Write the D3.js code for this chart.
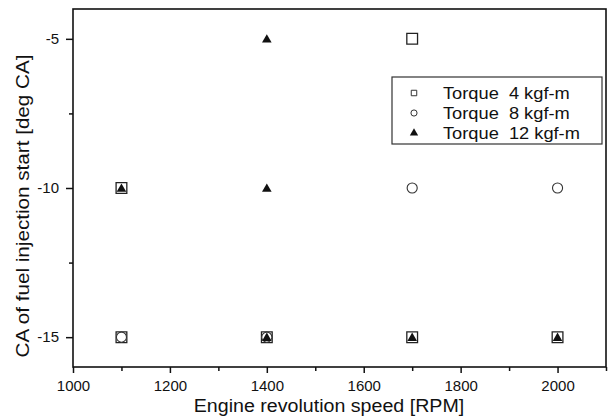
<!DOCTYPE html>
<html>
<head>
<meta charset="utf-8">
<script src="https://cdn.jsdelivr.net/npm/d3@7"></script>
<style>
  body { margin: 0; background: #fff; }
  text { font-family: "Liberation Sans", Arial, sans-serif; fill: #111; }
</style>
</head>
<body>
<div id="chart"></div>
<script>
// data
var torque4 = [[1100, -10], [1100, -15], [1400, -15], [1700, -5], [1700, -15], [2000, -15]];
var torque8 = [[1100, -15], [1400, -15], [1700, -10], [2000, -10]];
var torque12 = [[1100, -10], [1400, -5], [1400, -10], [1400, -15], [1700, -15], [2000, -15]];
var seriesNames = ["Torque  4 kgf-m", "Torque  8 kgf-m", "Torque  12 kgf-m"];
var xTicks = [1000, 1200, 1400, 1600, 1800, 2000];
var xMinor = [1100, 1300, 1500, 1700, 1900, 2100];
var yTicks = [-5, -10, -15];
var yMinor = [-7.5, -12.5];

var W = 611, H = 416;
var margin = {top: 9, right: 5, bottom: 49, left: 73};
var width = W - margin.left - margin.right,
    height = H - margin.top - margin.bottom;

var svg = d3.select("#chart").append("svg")
    .attr("width", W)
    .attr("height", H);

var g = svg.append("g")
    .attr("transform", "translate(" + margin.left + "," + margin.top + ")");

var x = d3.scaleLinear().domain([1000, 2100]).range([0, width]);
var y = d3.scaleLinear().domain([-16, -4]).range([height, 0]);

// the original glyphs are a bit wider than Liberation Sans
function stretch(sel, k) {
    sel.each(function () {
        var len = this.getComputedTextLength();
        d3.select(this).attr("textLength", len * k).attr("lengthAdjust", "spacingAndGlyphs");
    });
}

// minor ticks first, then the labelled ones
g.append("g")
    .attr("transform", "translate(0," + height + ")")
    .call(d3.axisBottom(x).tickValues(xMinor).tickSize(4).tickFormat(""));
g.append("g")
    .attr("transform", "translate(0," + height + ")")
    .call(d3.axisBottom(x).tickValues(xTicks).tickSize(6).tickPadding(7).tickFormat(String))
    .attr("font-size", 15);
g.append("g")
    .call(d3.axisLeft(y).tickValues(yMinor).tickSize(4).tickFormat(""));
g.append("g")
    .call(d3.axisLeft(y).tickValues(yTicks).tickSize(7).tickPadding(7).tickFormat(String))
    .attr("font-size", 15);

g.selectAll(".domain").remove();
g.selectAll(".tick line").attr("stroke", "#111").attr("stroke-width", 1.5);
g.selectAll(".tick text").attr("font-family", "Liberation Sans, Arial, sans-serif").attr("fill", "#222");

// frame
g.append("rect")
    .attr("width", width)
    .attr("height", height)
    .attr("fill", "none")
    .attr("stroke", "#111")
    .attr("stroke-width", 1.6);

var square = d3.symbol().type(d3.symbolSquare),
    circle = d3.symbol().type(d3.symbolCircle),
    triangle = d3.symbol().type(d3.symbolTriangle);

g.selectAll(".sq").data(torque4).enter().append("path")
    .attr("class", "sq")
    .attr("d", square.size(115))
    .attr("transform", function (d) { return "translate(" + x(d[0]) + "," + y(d[1]) + ")"; })
    .attr("fill", "#fff").attr("stroke", "#222").attr("stroke-width", 1.3);

g.selectAll(".ci").data(torque8).enter().append("path")
    .attr("class", "ci")
    .attr("d", circle.size(80))
    .attr("transform", function (d) { return "translate(" + x(d[0]) + "," + y(d[1]) + ")"; })
    .attr("fill", "#fff").attr("stroke", "#333").attr("stroke-width", 1.1);

g.selectAll(".tr").data(torque12).enter().append("path")
    .attr("class", "tr")
    .attr("d", triangle.size(40))
    .attr("transform", function (d) { return "translate(" + x(d[0]) + "," + (y(d[1]) + 1) + ")"; })
    .attr("fill", "#111");

// legend
var legend = svg.append("g").attr("transform", "translate(392,77)");
legend.append("rect")
    .attr("width", 210).attr("height", 67)
    .attr("fill", "#fff").attr("stroke", "#333").attr("stroke-width", 1.2);

var legendSyms = [square.size(30), circle.size(30), triangle.size(30)];
seriesNames.forEach(function (name, i) {
    var row = legend.append("g").attr("transform", "translate(0," + (16 + i * 20) + ")");
    row.append("path")
        .attr("d", legendSyms[i])
        .attr("transform", "translate(22,0)")
        .attr("fill", i == 2 ? "#111" : "#fff")
        .attr("stroke", i == 2 ? "none" : "#333")
        .attr("stroke-width", 1);
    row.append("text")
        .attr("x", 51)
        .attr("y", 6)
        .attr("font-size", 16)
        .style("white-space", "pre")
        .text(name)
        .call(stretch, 1.14);
});

// axis titles
svg.append("text")
    .attr("x", 329)
    .attr("y", 412)
    .attr("text-anchor", "middle")
    .attr("font-size", 18)
    .text("Engine revolution speed [RPM]")
    .call(stretch, 1.09);

svg.append("text")
    .attr("transform", "translate(29,206) rotate(-90)")
    .attr("text-anchor", "middle")
    .attr("font-size", 18)
    .text("CA of fuel injection start [deg CA]")
    .attr("textLength", 303)
    .attr("lengthAdjust", "spacingAndGlyphs");
</script>
</body>
</html>
